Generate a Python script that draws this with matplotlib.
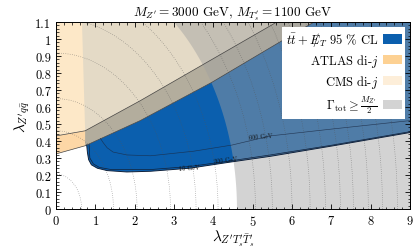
import numpy as np
import matplotlib
matplotlib.use("Agg")
import matplotlib.pyplot as plt
from matplotlib.patches import Patch

plt.rcParams["font.family"] = "serif"
plt.rcParams["font.serif"] = ["cmr10", "DejaVu Serif"]
plt.rcParams["mathtext.fontset"] = "cm"
plt.rcParams["axes.formatter.use_mathtext"] = True

# upper edge of the di-jet band (CMS above, ATLAS below)
upper_x = [0.0, 0.74, 2.14, 3.50, 5.45, 5.61]
upper_y = [0.43, 0.46, 0.637, 0.818, 1.078, 1.10]
# lower edge of the ATLAS band
lower_x = [0.0, 0.74, 2.14, 3.96, 5.60, 6.56]
lower_y = [0.324, 0.372, 0.52, 0.745, 0.97, 1.10]
# boundary where the di-jet shading turns grey
split_x = [0.74, 0.66]
split_y = [0.372, 1.10]

# lower edge of the t tbar + MET exclusion (10 GeV)
excl_x = [0.78, 0.80, 0.83, 0.90, 1.05, 1.30, 1.80, 2.40, 3.40, 4.40, 5.45, 7.00, 9.00]
excl_y = [0.376, 0.33, 0.29, 0.26, 0.24, 0.226, 0.218, 0.222, 0.24, 0.275, 0.31, 0.37, 0.45]
# 300 GeV contour
c300_x = [0.84, 0.86, 0.95, 1.10, 1.40, 2.40, 3.40, 4.40, 5.45, 7.00, 9.00]
c300_y = [0.378, 0.30, 0.265, 0.245, 0.232, 0.232, 0.25, 0.282, 0.318, 0.375, 0.455]
# 600 GeV contour
c600_x = [1.13, 1.20, 1.30, 1.45, 1.80, 2.40, 3.50, 4.47, 5.45, 7.00, 9.00]
c600_y = [0.415, 0.39, 0.36, 0.335, 0.318, 0.313, 0.34, 0.376, 0.43, 0.47, 0.52]

# width ellipse Gamma_tot = M/2 (semi-axes) and dotted iso-width lines (x intercepts)
width_a, width_b = 4.6, 1.45
iso_width_x = [0.65, 1.46, 2.06, 2.91, 3.56, 4.12, 5.07, 5.50, 6.00, 6.46,
               6.85, 7.23, 7.56, 7.94, 8.30, 8.68]

label_text = [r"$t\bar{t}+E\!\!\!/_T$ 95 % CL", r"ATLAS di-$j$", r"CMS di-$j$",
              r"$\Gamma_{\rm tot}\geq\frac{M_{Z'}}{2}$"]
legend_colors = ["#0b5fae", "#fdd193", "#fdeed9", "#d3d3d3"]


def main():
    fig = plt.figure(figsize=(4.15, 2.53), dpi=100)
    ax = fig.add_axes([0.135, 0.170, 0.853, 0.739])
    top = 1.1

    # CMS region above the band
    ax.fill(upper_x + [0.0], upper_y + [top], color="#fde8c8", lw=0)
    # ATLAS band
    ax.fill(upper_x + lower_x[::-1], upper_y + lower_y[::-1], color="#fdd7a6", lw=0)
    # greyed parts right of the split
    ux = [split_x[0]] + [x for x in upper_x if x > split_x[0]]
    uy = [np.interp(split_x[0], upper_x, upper_y)] + [y for x, y in zip(upper_x, upper_y) if x > split_x[0]]
    ax.fill(ux + [split_x[1]], uy + [top], color="#e4dac6", lw=0)
    lx = [split_x[0]] + [x for x in lower_x if x > split_x[0]]
    ly = [lower_y[1]] + [y for x, y in zip(lower_x, lower_y) if x > split_x[0]]
    ax.fill(ux + lx[::-1], uy + ly[::-1], color="#b3ad9d", lw=0)

    # signal exclusion
    blue_top_x = [x for x in lower_x if x > excl_x[0]][::-1]
    blue_top_y = [y for x, y in zip(lower_x, lower_y) if x > excl_x[0]][::-1]
    bx = excl_x + [9.0] + blue_top_x + [excl_x[0]]
    by = excl_y + [top] + blue_top_y + [np.interp(excl_x[0], lower_x, lower_y)]
    ax.fill(bx, by, color="#0b5fae", lw=0)

    # Gamma_tot >= M/2 region
    t = np.linspace(0, np.arcsin(min(top / width_b, 1.0)), 100)
    ex = width_a * np.cos(t)
    ey = width_b * np.sin(t)
    ax.fill(list(ex) + [ex[-1], 9.0, 9.0], list(ey) + [top, top, 0.0],
            color="#a0a0a0", alpha=0.46, lw=0)

    # dotted iso-width ellipses
    t = np.linspace(0, np.pi / 2, 200)
    for a in iso_width_x:
        ax.plot(a * np.cos(t), a * width_b / width_a * np.sin(t),
                ls=(0, (1, 2.5)), lw=0.45, color="#555555", alpha=0.8)

    ax.plot(upper_x, upper_y, color="#444444", lw=0.5)
    ax.plot(lower_x, lower_y, color="#444444", lw=0.5)
    ax.plot(excl_x, excl_y, color="#10213a", lw=0.7)
    ax.plot(c300_x, c300_y, color="#10213a", lw=0.5)
    ax.plot(c600_x, c600_y, color="#1a2a44", lw=0.45, alpha=0.8)
    ax.text(3.4, 0.245, "10 GeV", fontsize=4.5, ha="center", va="center", rotation=4, color="#111111")
    ax.text(4.3, 0.29, "300 GeV", fontsize=4.5, ha="center", va="center", rotation=7, color="#111111")
    ax.text(5.2, 0.43, "600 GeV", fontsize=4.5, ha="center", va="center", rotation=5, color="#111111")

    ax.set_xlim(0, 9)
    ax.set_ylim(0, top)
    ax.set_xticks(np.arange(0, 10, 1))
    ax.set_yticks(np.round(np.arange(0, 1.11, 0.1), 1))
    ax.set_yticklabels(["0", "0.1", "0.2", "0.3", "0.4", "0.5", "0.6", "0.7", "0.8", "0.9", "1", "1.1"])
    ax.minorticks_on()
    ax.xaxis.set_minor_locator(matplotlib.ticker.MultipleLocator(0.2))
    ax.yaxis.set_minor_locator(matplotlib.ticker.MultipleLocator(0.02))
    ax.tick_params(which="both", direction="in", top=True, right=True, labelsize=9)
    ax.tick_params(which="major", length=3.5, width=0.6)
    ax.tick_params(which="minor", length=1.8, width=0.5)
    for s in ax.spines.values():
        s.set_linewidth(0.7)

    ax.set_title(r"$M_{Z'}=3000$ GeV, $M_{T_s'}=1100$ GeV", fontsize=9.5, pad=4)
    ax.set_xlabel(r"$\lambda_{Z'T_s'\bar{T}_s'}$", fontsize=11, labelpad=0)
    ax.set_ylabel(r"$\lambda_{Z'q\bar{q}}$", fontsize=11, labelpad=2)

    handles = [Patch(facecolor=c, edgecolor="none") for c in legend_colors]
    leg = ax.legend(handles, label_text, loc="upper right", markerfirst=False,
                    fontsize=9, fancybox=False, framealpha=1, edgecolor="white",
                    handlelength=1.5, handleheight=0.8, labelspacing=0.3,
                    borderaxespad=0.4, borderpad=0.25, handletextpad=0.4)
    leg.get_frame().set_linewidth(0)

    fig.savefig("out.png", dpi=100)


if __name__ == "__main__":
    main()
